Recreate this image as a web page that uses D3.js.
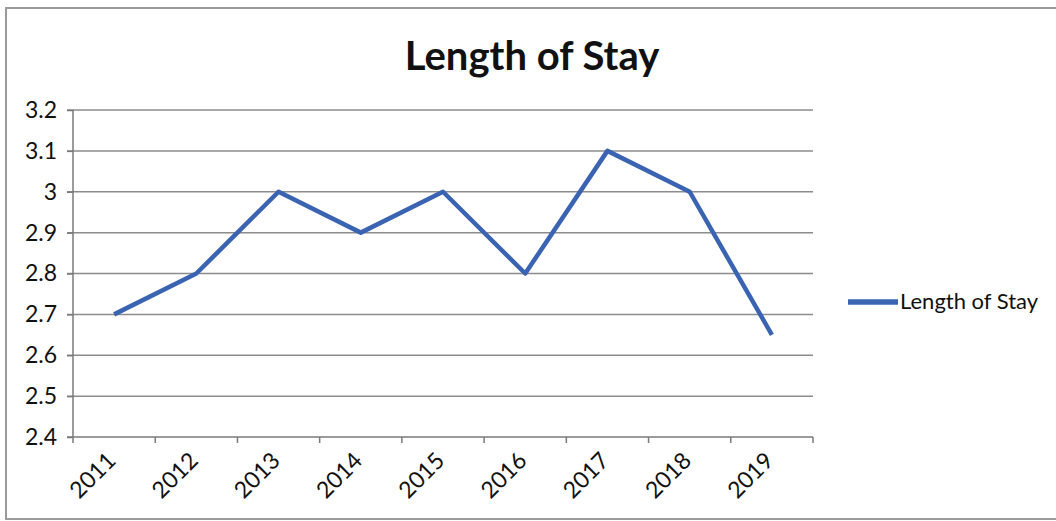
<!DOCTYPE html>
<html>
<head>
<meta charset="utf-8">
<script src="https://cdn.jsdelivr.net/npm/d3@7"></script>
<style>
    body { margin: 0; background: #fff; }
    svg { display: block; font-family: Lato, "Open Sans", sans-serif; }
    .grid line { stroke: #8c8c8c; stroke-width: 1.5; }
    .axis path, .axis line { stroke: #7a7a7a; stroke-width: 1.5; }
    .axis text { font-family: Lato, "Open Sans", sans-serif; font-size: 23px; fill: #111; }
</style>
</head>
<body>
<div id="chart"></div>
<script>
    var years = ['2011', '2012', '2013', '2014', '2015', '2016', '2017', '2018', '2019'];
    var lengthOfStay = [2.7, 2.8, 3.0, 2.9, 3.0, 2.8, 3.1, 3.0, 2.65];
    var yTicks = [2.4, 2.5, 2.6, 2.7, 2.8, 2.9, 3.0, 3.1, 3.2];
    var seriesName = 'Length of Stay';
    var chartTitle = 'Length of Stay';

    var width = 1056, height = 521;
    var margin = { left: 73, top: 110, right: 243, bottom: 84 };
    var innerWidth = width - margin.left - margin.right;
    var innerHeight = height - margin.top - margin.bottom;

    var svg = d3.select('#chart')
        .append('svg')
        .attr('width', width)
        .attr('height', height);

    // outer chart frame (right edge runs off the picture)
    svg.append('path')
        .attr('d', 'M' + width + ',8H6V519H' + width)
        .style('fill', 'none')
        .style('stroke', '#9a9a9a')
        .style('stroke-width', 2);

    svg.append('text')
        .attr('x', 532)
        .attr('y', 70)
        .attr('text-anchor', 'middle')
        .style('font-size', '40px')
        .style('font-weight', 'bold')
        .style('fill', '#111')
        .text(chartTitle);

    var canvas = svg.append('g')
        .attr('transform', 'translate(' + [margin.left, margin.top] + ')');

    var xScale = d3.scaleBand()
        .domain(years)
        .range([0, innerWidth]);

    var yScale = d3.scaleLinear()
        .domain([2.4, 3.2])
        .range([innerHeight, 0]);

    canvas.append('g')
        .attr('class', 'grid')
        .selectAll('line')
        .data(yTicks.slice(1))
        .enter()
        .append('line')
        .attr('x1', -6)
        .attr('x2', innerWidth)
        .attr('y1', d => yScale(d))
        .attr('y2', d => yScale(d));

    var yAxis = canvas.append('g')
        .attr('class', 'axis y-axis')
        .call(d3.axisLeft(yScale)
            .tickValues(yTicks)
            .tickSize(6)
            .tickPadding(10)
            .tickFormat(d => d === 3 ? '3' : d3.format('.1f')(d)));
    yAxis.attr('font-size', null).attr('font-family', null);
    yAxis.select('.domain').attr('d', 'M0,0V' + innerHeight);

    // x axis: ticks on band boundaries
    var xAxis = canvas.append('g')
        .attr('class', 'axis x-axis')
        .attr('transform', 'translate(0,' + innerHeight + ')');

    xAxis.append('line')
        .attr('x1', -6)
        .attr('x2', innerWidth)
        .attr('y1', 0)
        .attr('y2', 0);

    var bounds = years.map(d => xScale(d)).concat([innerWidth]);
    xAxis.selectAll('line.tick')
        .data(bounds)
        .enter()
        .append('line')
        .attr('class', 'tick')
        .attr('x1', d => d)
        .attr('x2', d => d)
        .attr('y1', 0)
        .attr('y2', 6);

    xAxis.selectAll('text')
        .data(years)
        .enter()
        .append('text')
        .attr('text-anchor', 'end')
        .attr('transform', d => 'translate(' + [xScale(d) + xScale.bandwidth() / 2 + 3, 25] + ') rotate(-45)')
        .text(d => d);

    var line = d3.line()
        .x((d, i) => xScale(years[i]) + xScale.bandwidth() / 2)
        .y(d => yScale(d));

    canvas.append('path')
        .datum(lengthOfStay)
        .attr('d', line)
        .style('fill', 'none')
        .style('stroke', '#3a64b2')
        .style('stroke-width', 4.5)
        .style('stroke-linejoin', 'round');

    // legend
    var legend = svg.append('g')
        .attr('transform', 'translate(848,302)');

    legend.append('line')
        .attr('x1', 0)
        .attr('x2', 50)
        .style('stroke', '#3a64b2')
        .style('stroke-width', 5.5);

    legend.append('text')
        .attr('x', 52)
        .attr('y', 7)
        .style('font-size', '22px')
        .style('fill', '#111')
        .text(seriesName);
</script>
</body>
</html>
